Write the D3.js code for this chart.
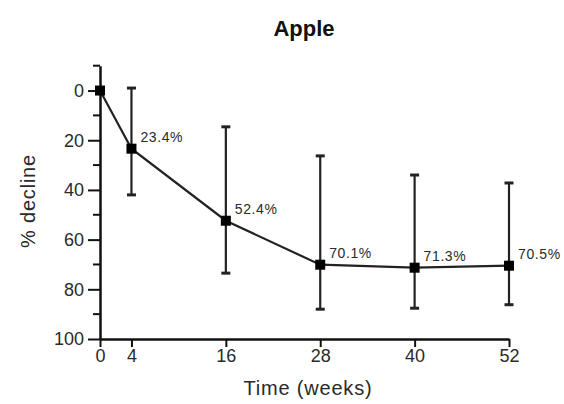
<!DOCTYPE html>
<html>
<head>
<meta charset="utf-8">
<script src="https://cdn.jsdelivr.net/npm/d3@7"></script>
<style>
  html, body { margin: 0; padding: 0; background: #fff; }
  svg { display: block; font-family: "Liberation Sans", Arial, sans-serif; }
</style>
</head>
<body>
<svg id="chart" width="564" height="404"></svg>
<script>
// Time points (weeks) and mean % decline with error-bar extents
const weeks = [0, 4, 16, 28, 40, 52];
const meanDecline = [0, 23.4, 52.4, 70.1, 71.3, 70.5];
const errUpper = [0, -1, 14.6, 26.3, 34, 37.2];
const errLower = [0, 42, 73.5, 88, 87.6, 86.2];
const pointLabels = ["", "23.4%", "52.4%", "70.1%", "71.3%", "70.5%"];
const yTicks = [0, 20, 40, 60, 80, 100];
const yMinorTicks = [-10, 10, 30, 50, 70, 90];

const svg = d3.select("#chart");
const ink = "#111";
const textInk = "#2a2a2a";

const x = d3.scaleLinear().domain([0, 52]).range([100, 509]);
const y = d3.scaleLinear().domain([-10, 100]).range([65.7, 339]);

const data = weeks.map((w, i) => ({
  w, m: meanDecline[i], hi: errUpper[i], lo: errLower[i], label: pointLabels[i]
}));

// Title
svg.append("text")
  .attr("x", 304).attr("y", 36)
  .attr("text-anchor", "middle")
  .attr("font-size", 22).attr("font-weight", "bold")
  .attr("fill", ink)
  .text("Apple");

// Y axis (major + minor ticks)
const yAxisG = svg.append("g").attr("transform", `translate(${x(0)},0)`);
yAxisG.call(d3.axisLeft(y).tickValues(yTicks).tickSize(12).tickPadding(4).tickSizeOuter(0));
yAxisG.selectAll(".tick line").attr("stroke", ink).attr("stroke-width", 2);
yAxisG.select(".domain").attr("stroke", ink).attr("stroke-width", 2.5);
yAxisG.selectAll(".tick text").attr("font-size", 18).attr("fill", textInk)
  .attr("font-family", "Liberation Sans, Arial, sans-serif");
yAxisG.selectAll(".minor").data(yMinorTicks).enter().append("line")
  .attr("class", "minor")
  .attr("x1", -7).attr("x2", 0)
  .attr("y1", d => y(d)).attr("y2", d => y(d))
  .attr("stroke", ink).attr("stroke-width", 2);

// X axis
const xAxisG = svg.append("g").attr("transform", `translate(0,${y(100)})`);
xAxisG.call(d3.axisBottom(x).tickValues(weeks).tickSize(8).tickPadding(2).tickSizeOuter(0));
xAxisG.selectAll(".tick line").attr("stroke", ink).attr("stroke-width", 2);
xAxisG.select(".domain").attr("stroke", ink).attr("stroke-width", 2.5);
xAxisG.selectAll(".tick text").attr("font-size", 18).attr("fill", textInk)
  .attr("font-family", "Liberation Sans, Arial, sans-serif");

// Axis titles
svg.append("text")
  .attr("x", 308).attr("y", 395)
  .attr("text-anchor", "middle")
  .attr("font-size", 20).attr("letter-spacing", 0.8).attr("fill", textInk)
  .text("Time (weeks)");
svg.append("text")
  .attr("transform", "translate(35,201) rotate(-90)")
  .attr("text-anchor", "middle")
  .attr("font-size", 20).attr("letter-spacing", 0.8).attr("fill", textInk)
  .text("% decline");

// Error bars
const eb = svg.append("g").attr("stroke", "#222").attr("stroke-width", 2.2);
data.filter(d => d.hi !== d.lo).forEach(d => {
  eb.append("line").attr("x1", x(d.w)).attr("x2", x(d.w)).attr("y1", y(d.hi)).attr("y2", y(d.lo));
  eb.append("line").attr("x1", x(d.w) - 4.5).attr("x2", x(d.w) + 4.5).attr("y1", y(d.hi)).attr("y2", y(d.hi)).attr("stroke-width", 3);
  eb.append("line").attr("x1", x(d.w) - 4.5).attr("x2", x(d.w) + 4.5).attr("y1", y(d.lo)).attr("y2", y(d.lo)).attr("stroke-width", 3);
});

// Mean line
svg.append("path")
  .datum(data)
  .attr("fill", "none").attr("stroke", "#222").attr("stroke-width", 2.2)
  .attr("d", d3.line().x(d => x(d.w)).y(d => y(d.m)));

// Square markers
svg.append("g").selectAll("rect").data(data).enter().append("rect")
  .attr("x", d => x(d.w) - 5).attr("y", d => y(d.m) - 5)
  .attr("width", 10).attr("height", 10)
  .attr("fill", "#000");

// Value labels
svg.append("g").selectAll("text").data(data.filter(d => d.label)).enter().append("text")
  .attr("x", d => x(d.w) + 9).attr("y", d => y(d.m) - 7)
  .attr("font-size", 14).attr("letter-spacing", 0.6).attr("fill", textInk)
  .text(d => d.label);
</script>
</body>
</html>
